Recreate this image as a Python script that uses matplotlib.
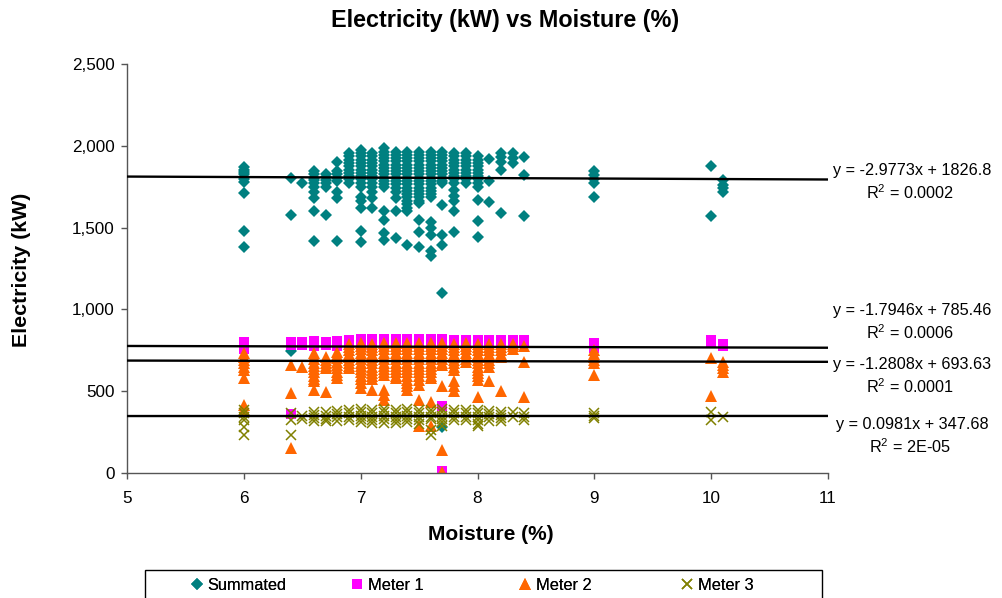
import matplotlib
matplotlib.use("Agg")
import matplotlib.pyplot as plt
from matplotlib.ticker import FuncFormatter
from matplotlib.patches import Rectangle
import numpy as np

plt.rcParams['font.family'] = ['Liberation Sans', 'DejaVu Sans']
plt.rcParams['mathtext.fontset'] = 'custom'
plt.rcParams['mathtext.rm'] = 'Liberation Sans'
plt.rcParams['mathtext.it'] = 'Liberation Sans'
plt.rcParams['mathtext.bf'] = 'Liberation Sans:bold'

# ---- data (moisture -> readings) ----
moisture = [6.0, 6.4, 6.5, 6.6, 6.7, 6.8, 6.9, 7.0, 7.1, 7.2, 7.3, 7.4, 7.5, 7.6,
            7.7, 7.8, 7.9, 8.0, 8.1, 8.2, 8.3, 8.4, 9.0, 10.0, 10.1]

summated = [
    [1870, 1855, 1840, 1825, 1810, 1795, 1780, 1710, 1480, 1380],
    [1805, 1575, 745],
    [1775],
    [1845, 1825, 1805, 1790, 1770, 1750, 1720, 1680, 1600, 1420],
    [1830, 1810, 1790, 1770, 1750, 1580],
    [1900, 1845, 1825, 1805, 1785, 1720, 1680, 1420],
    [1955, 1935, 1915, 1895, 1875, 1855, 1835, 1815, 1795, 1775],
    [1975, 1955, 1935, 1915, 1895, 1875, 1855, 1835, 1815, 1795, 1775, 1750, 1690, 1660, 1620, 1480, 1415],
    [1955, 1935, 1915, 1895, 1875, 1855, 1835, 1815, 1795, 1775, 1750, 1720, 1680, 1620],
    [1985, 1965, 1945, 1925, 1905, 1885, 1865, 1845, 1825, 1805, 1785, 1765, 1750, 1600, 1545, 1465, 1425],
    [1965, 1945, 1925, 1905, 1885, 1865, 1845, 1825, 1805, 1785, 1765, 1745, 1720, 1680, 1600, 1435],
    [1965, 1945, 1925, 1905, 1885, 1865, 1845, 1825, 1805, 1785, 1765, 1745, 1725, 1705, 1685, 1665, 1645, 1620, 1600, 1395],
    [1965, 1945, 1925, 1905, 1885, 1865, 1845, 1825, 1805, 1785, 1765, 1745, 1725, 1705, 1685, 1665, 1650, 1545, 1475, 1380],
    [1965, 1945, 1925, 1905, 1885, 1865, 1845, 1825, 1805, 1785, 1765, 1745, 1725, 1705, 1690, 1535, 1500, 1455, 1360, 1325],
    [1965, 1945, 1925, 1905, 1885, 1865, 1845, 1825, 1805, 1785, 1770, 1640, 1455, 1395, 1100, 280],
    [1955, 1935, 1915, 1895, 1875, 1855, 1835, 1815, 1795, 1775, 1730, 1695, 1660, 1600, 1475],
    [1955, 1935, 1915, 1895, 1875, 1855, 1835, 1815, 1795, 1775],
    [1935, 1915, 1895, 1875, 1855, 1835, 1815, 1795, 1775, 1750, 1670, 1540, 1440],
    [1920, 1785, 1655],
    [1955, 1930, 1900, 1855, 1590],
    [1955, 1925, 1895],
    [1930, 1820, 1570],
    [1845, 1820, 1800, 1775, 1690],
    [1875, 1570],
    [1790, 1760, 1740, 1720],
]

meter1 = [
    [800, 785, 770, 755],
    [800, 785, 360],
    [800, 785],
    [805, 790, 775],
    [800, 785],
    [805, 790, 775],
    [815, 800, 785],
    [820, 805, 790, 775],
    [820, 805, 790, 775],
    [820, 805, 790, 775],
    [820, 805, 790, 775],
    [820, 805, 790, 775],
    [820, 805, 790, 775],
    [820, 805, 790, 775],
    [820, 805, 790, 410, 10],
    [815, 800, 785],
    [815, 800, 785],
    [815, 800, 785],
    [810, 795],
    [815, 800],
    [815, 800],
    [815, 800],
    [795, 780, 765],
    [815, 795],
    [790, 775],
]

meter2 = [
    [735, 710, 690, 670, 650, 630, 580, 415, 385],
    [660, 490, 150],
    [650],
    [735, 715, 695, 675, 655, 635, 615, 595, 575, 560, 505],
    [710, 690, 670, 655, 640, 495],
    [740, 720, 700, 680, 660, 640, 620, 600, 580],
    [790, 770, 750, 730, 710, 690, 670, 655, 640],
    [795, 775, 755, 735, 715, 695, 675, 655, 635, 615, 595, 575, 550, 520],
    [790, 770, 750, 730, 710, 690, 670, 650, 630, 610, 590, 575, 505],
    [795, 775, 755, 735, 715, 695, 675, 655, 635, 615, 600, 505, 475, 445],
    [795, 775, 755, 735, 715, 695, 675, 655, 635, 615, 595, 580],
    [795, 775, 755, 735, 715, 695, 675, 655, 635, 615, 590, 570, 550, 530, 505],
    [795, 775, 755, 735, 715, 695, 675, 655, 635, 615, 595, 570, 540, 445, 285],
    [795, 775, 755, 735, 715, 695, 675, 655, 635, 615, 595, 580, 435, 285],
    [795, 775, 755, 735, 715, 695, 675, 660, 530, 140, 8],
    [790, 770, 750, 730, 710, 690, 670, 650, 630, 560, 530, 500],
    [795, 775, 755, 735, 715, 695, 680],
    [790, 770, 750, 730, 710, 690, 670, 650, 630, 610, 590, 570, 465],
    [790, 770, 750, 730, 710, 690, 670, 650, 565],
    [790, 770, 750, 730, 710, 500],
    [790, 775, 760],
    [775, 680, 465],
    [750, 730, 710, 690, 672, 600],
    [700, 470],
    [680, 660, 640, 620],
]

meter3 = [
    [385, 365, 345, 325, 280, 235],
    [365, 325, 235],
    [350, 330],
    [375, 355, 335, 315],
    [370, 350, 330, 315],
    [380, 360, 340, 320],
    [385, 365, 345, 325],
    [390, 370, 350, 330, 310],
    [385, 365, 345, 325, 305],
    [390, 370, 350, 330, 305],
    [385, 365, 345, 325, 305],
    [390, 370, 350, 330, 310],
    [385, 365, 345, 325, 300],
    [385, 365, 345, 330, 265, 235],
    [390, 370, 350, 330, 310, 290],
    [385, 365, 345, 325],
    [385, 365, 345, 325],
    [385, 365, 345, 325, 300, 285],
    [380, 360, 340, 320],
    [375, 355, 335, 315],
    [370, 345],
    [365, 345, 325],
    [365, 350, 335],
    [375, 325],
    [345],
]

series_names = ["Summated", "Meter 1", "Meter 2", "Meter 3"]
trend_slope = [-2.9773, -1.7946, -1.2808, 0.0981]
trend_intercept = [1826.8, 785.46, 693.63, 347.68]
trend_eq = ["y = -2.9773x + 1826.8", "y = -1.7946x + 785.46",
            "y = -1.2808x + 693.63", "y = 0.0981x + 347.68"]
trend_r2 = ["R$^{2}$ = 0.0002", "R$^{2}$ = 0.0006", "R$^{2}$ = 0.0001", "R$^{2}$ = 2E-05"]

x_ticks = [5, 6, 7, 8, 9, 10, 11]
y_ticks = [0, 500, 1000, 1500, 2000, 2500]


def flatten(groups):
    xs, ys = [], []
    for m, vals in zip(moisture, groups):
        for v in vals:
            xs.append(m)
            ys.append(v)
    return np.array(xs), np.array(ys)


W, H = 1003, 598
fig = plt.figure(figsize=(W / 100, H / 100), dpi=100)
ax = fig.add_axes([127 / W, 1 - 473 / H, (828 - 127) / W, (473 - 64) / H])

styles = [
    dict(marker='D', color='#008080', markersize=6.2, markeredgewidth=0),
    dict(marker='s', color='#FF00FF', markersize=6.5, markeredgewidth=0),
    dict(marker='^', color='#FF6600', markersize=8.3, markeredgewidth=0),
    dict(marker='x', color='#808000', markersize=6.5, markeredgewidth=1.1),
]
handles = []
for groups, st, name in zip([summated, meter1, meter2, meter3], styles, series_names):
    xs, ys = flatten(groups)
    h, = ax.plot(xs, ys, linestyle='none', label=name, zorder=2, **st)
    handles.append(h)

xl = np.array([5.0, 11.0])
for a, b in zip(trend_slope, trend_intercept):
    ax.plot(xl, a * xl + b, color='black', linewidth=1.7, zorder=3,
            solid_capstyle='butt', clip_on=False)

ax.set_xlim(5, 11)
ax.set_ylim(0, 2500)
ax.set_xticks(x_ticks)
ax.set_yticks(y_ticks)
ax.yaxis.set_major_formatter(FuncFormatter(lambda v, p: f"{int(v):,}"))
for s in ['top', 'right']:
    ax.spines[s].set_visible(False)
for s in ['left', 'bottom']:
    ax.spines[s].set_color('#555555')
    ax.spines[s].set_linewidth(1.0)
ax.tick_params(axis='both', direction='out', length=4, width=1.0, color='#555555',
               labelsize=12.3, labelcolor='black')
ax.tick_params(axis='y', pad=5)
ax.tick_params(axis='x', pad=9)

fig.text(505 / W, 1 - 21 / H, "Electricity (kW) vs Moisture (%)",
         ha='center', va='center', fontsize=16.8, fontweight='bold')
fig.text(22 / W, 1 - 270 / H, "Electricity (kW)", rotation=90, ha='center', va='center',
         fontsize=15.4, fontweight='bold')
fig.text(491 / W, 1 - 534 / H, "Moisture (%)", ha='center', va='center',
         fontsize=15, fontweight='bold')

eq_y = [171, 311, 365, 425]
for eq, r2, yy in zip(trend_eq, trend_r2, eq_y):
    fig.text(912 / W, 1 - yy / H, eq, ha='center', va='center', fontsize=11.7)
    fig.text(910 / W, 1 - (yy + 22) / H, r2, ha='center', va='center', fontsize=11.7)

# legend frame (extends past the bottom edge like the reference)
fig.patches.append(Rectangle((145 / W, -0.05), (822 - 145) / W, 1 - 570 / H + 0.05,
                             transform=fig.transFigure, fill=False, edgecolor='black',
                             linewidth=1.0))
legend_x = [190.5, 350.5, 518.5, 680.5]
for h, lx in zip(handles, legend_x):
    lg = fig.legend(handles=[h], loc='center left',
                    bbox_to_anchor=(lx / W, 1 - 585 / H),
                    frameon=False, fontsize=11.8, handlelength=0.8,
                    handletextpad=0.25, borderaxespad=0.0, borderpad=0.0)
    fig.add_artist(lg)

fig.savefig("out.png", dpi=100)
